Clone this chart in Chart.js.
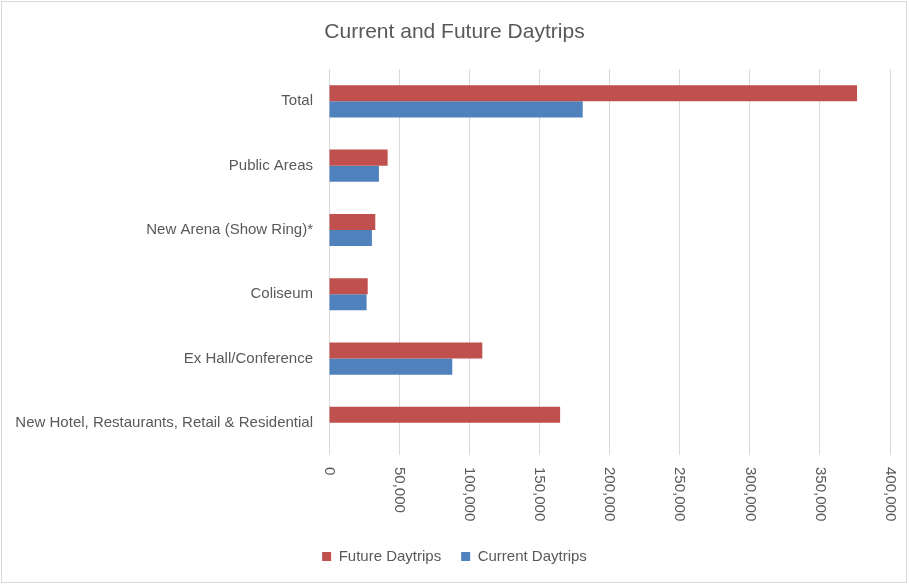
<!DOCTYPE html>
<html>
<head>
<meta charset="utf-8">
<script src="https://cdn.jsdelivr.net/npm/chart.js@4"></script>
<style>
  html, body { margin: 0; padding: 0; background: #fff; }
  #wrap { width: 909px; height: 584px; position: relative; }
</style>
</head>
<body>
<div id="wrap"><canvas id="daytrips"></canvas></div>
<script>
const categories = [
  "Total",
  "Public Areas",
  "New Arena (Show Ring)*",
  "Coliseum",
  "Ex Hall/Conference",
  "New Hotel, Restaurants, Retail & Residential",
];
const futureDaytrips = [376500, 41800, 33000, 27600, 109300, 164800];
const currentDaytrips = [180900, 35600, 30600, 26800, 87900, 0];
const xMax = 400000;
const xStep = 50000;

const textColor = "#595959";
const fontFamily = "'Liberation Sans', Arial, sans-serif";

// excel style frame + x labels rotated clockwise
const frame = {
  id: "frame",
  beforeDraw(chart) {
    const ctx = chart.ctx;
    ctx.save();
    ctx.strokeStyle = "#d9d9d9";
    ctx.lineWidth = 1;
    ctx.strokeRect(1.5, 1.5, chart.width - 4, chart.height - 3);
    ctx.restore();
  },
  afterDraw(chart) {
    const x = chart.scales.x;
    const ctx = chart.ctx;
    ctx.save();
    ctx.fillStyle = textColor;
    ctx.font = "15px " + fontFamily;
    ctx.textAlign = "left";
    ctx.textBaseline = "middle";
    x.ticks.forEach((t) => {
      ctx.save();
      ctx.translate(x.getPixelForValue(t.value), x.top + 12);
      ctx.rotate(Math.PI / 2);
      ctx.fillText(t.value.toLocaleString("en-US"), 0, 0);
      ctx.restore();
    });
    ctx.restore();
  },
};

const ctx = document.getElementById("daytrips").getContext("2d");

new Chart(ctx, {
  type: "bar",
  data: {
    labels: categories,
    datasets: [
      {
        label: "Future Daytrips",
        data: futureDaytrips,
        backgroundColor: "#C0504D",
        categoryPercentage: 0.5,
        barPercentage: 1.0,
      },
      {
        label: "Current Daytrips",
        data: currentDaytrips,
        backgroundColor: "#4F81BD",
        categoryPercentage: 0.5,
        barPercentage: 1.0,
      },
    ],
  },
  options: {
    indexAxis: "y",
    responsive: true,
    maintainAspectRatio: false,
    animation: false,
    layout: {
      padding: { left: 0, right: 0, top: 0, bottom: 10 },
    },
    plugins: {
      title: {
        display: true,
        text: "Current and Future Daytrips",
        color: textColor,
        font: { family: fontFamily, size: 21, weight: "normal" },
        padding: { top: 20, bottom: 24 },
      },
      legend: {
        position: "bottom",
        labels: {
          color: textColor,
          font: { family: fontFamily, size: 15 },
          boxWidth: 9,
          boxHeight: 9,
          padding: 20,
        },
      },
      tooltip: { enabled: false },
    },
    scales: {
      x: {
        min: 0,
        max: xMax,
        ticks: { stepSize: xStep, display: false },
        grid: { color: "#d9d9d9", drawTicks: false },
        border: { display: false },
        afterFit(scale) {
          scale.height = 74;
        },
      },
      y: {
        grid: { display: false, drawTicks: false },
        border: { display: false },
        ticks: {
          color: textColor,
          font: { family: fontFamily, size: 15 },
          padding: 16,
        },
        afterFit(scale) {
          scale.width = 329;
        },
      },
      // empty spacer on the right so the plot ends at 400,000 like the original
      spacer: {
        type: "linear",
        position: "right",
        grid: { display: false, drawTicks: false },
        border: { display: false },
        ticks: { display: false },
        afterFit(scale) {
          scale.width = 19;
        },
      },
    },
  },
  plugins: [frame],
});
</script>
</body>
</html>
